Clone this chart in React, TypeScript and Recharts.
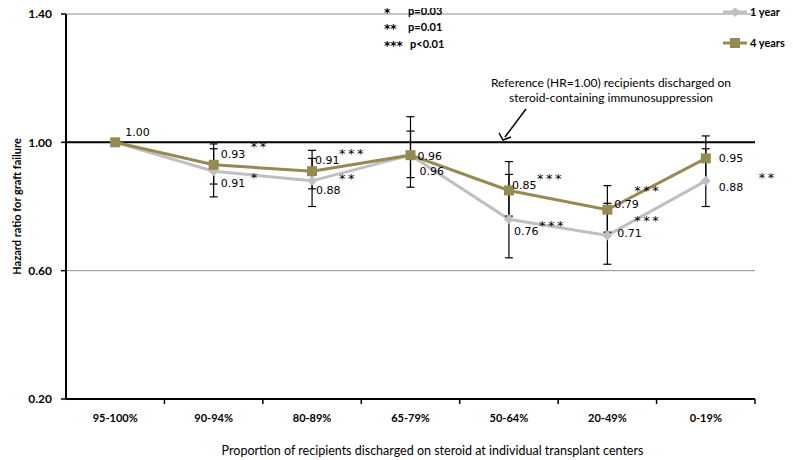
import {
	LineChart,
	Line,
	XAxis,
	YAxis,
	CartesianGrid,
	ReferenceLine,
	ErrorBar,
	LabelList,
	Label,
	Customized,
} from 'recharts'

const categories = ['95-100%', '90-94%', '80-89%', '65-79%', '50-64%', '20-49%', '0-19%']
const hr1Year = [1.0, 0.91, 0.88, 0.96, 0.76, 0.71, 0.88]
const hr4Years = [1.0, 0.93, 0.91, 0.96, 0.85, 0.79, 0.95]
const low1Year = [null, 0.83, 0.8, 0.86, 0.64, 0.62, 0.8]
const high1Year = [null, 0.98, 0.95, 1.08, 0.9, 0.81, 0.98]
const low4Years = [null, 0.87, 0.855, 0.89, 0.77, 0.72, 0.88]
const high4Years = [null, 0.995, 0.975, 1.035, 0.94, 0.865, 1.02]
const sig1Year = ['', '*', '**', '', '***', '***', '**']
const sig4Years = ['', '**', '***', '', '***', '***', '']
const yTicks = [0.2, 0.6, 1.0, 1.4]

// label placement tweaks (px), per point
const lblDx1 = [0, 7, 4, 9, 5, 10, 13]
const lblDy1 = [0, 16, 13, 20, 16, 2, 10]
const starDx1 = [0, 30, 23, 0, 25, 17, 40]
const starDy1 = [0, -5, -11, 0, -5, -12, -9]
const lblDx4 = [10, 7, 3, 7, 3, 7, 13]
const lblDy4 = [-6, -7, -7, 5, -1, -2, 4]
const starDx4 = [0, 30, 24, 0, 25, 20, 0]
const starDy4 = [0, -7, -6, 0, -6, -13, 0]

const data = categories.map((name, i) => ({
	name,
	oneYear: hr1Year[i],
	fourYears: hr4Years[i],
	err1:
		low1Year[i] == null
			? null
			: [hr1Year[i] - (low1Year[i] as number), (high1Year[i] as number) - hr1Year[i]],
	err4:
		low4Years[i] == null
			? null
			: [hr4Years[i] - (low4Years[i] as number), (high4Years[i] as number) - hr4Years[i]],
}))

const W = 793
const H = 460
const margin = { top: 14, right: 38, left: 0, bottom: 3 }
const Y_AXIS_W = 66
const BAND = (W - margin.right - Y_AXIS_W) / categories.length

const GRAY = '#c0c0c0'
const OLIVE = '#948a54'
const boldFont = 'Lato, "Open Sans", sans-serif'
const numFont = '"DejaVu Sans", Verdana, sans-serif'

const Diamond = ({ cx, cy, fill }: any) => (
	<polygon
		points={`${cx},${cy - 5} ${cx + 5},${cy} ${cx},${cy + 5} ${cx - 5},${cy}`}
		fill={fill}
	/>
)

const Square = ({ cx, cy, fill }: any) => (
	<rect x={cx - 5} y={cy - 5} width={10} height={10} fill={fill} />
)

const XTick = (props: any) => {
	const { x, y, payload } = props
	return (
		<g>
			<line x1={x + BAND / 2} x2={x + BAND / 2} y1={y} y2={y + 5} stroke='#000' strokeWidth={1.5} />
			<text
				x={x}
				y={y + 23}
				textAnchor='middle'
				fontFamily={boldFont}
				fontWeight='bold'
				fontSize={11}
				fill='#000'
			>
				{payload.value}
			</text>
		</g>
	)
}

const makeLabel =
	(
		sig: string[],
		dxs: number[],
		dys: number[],
		sdx: number[],
		sdy: number[],
		skipFirst: boolean
	) =>
	(props: any) => {
		const { x, y, value, index } = props
		if (skipFirst && index === 0) return null
		const tx = x + dxs[index]
		const ty = y + dys[index]
		return (
			<g key={`lbl-${index}`}>
				<text x={tx} y={ty} fontFamily={numFont} fontSize={11} fill='#000'>
					{Number(value).toFixed(2)}
				</text>
				{sig[index] ? (
					<text
						x={tx + sdx[index]}
						y={ty + sdy[index]}
						fontFamily={numFont}
						fontSize={13}
						letterSpacing={2.5}
						fill='#000'
					>
						{sig[index]}
					</text>
				) : null}
			</g>
		)
	}

const Notes = () => (
	<g fontFamily={boldFont} fontSize={11} fill='#000'>
		<g fontWeight='bold'>
			<text x={384} y={17} fontFamily={numFont} fontSize={12}>*</text>
			<text x={408} y={15}>p=0.03</text>
			<text x={384} y={33} fontFamily={numFont} fontSize={12}>**</text>
			<text x={408} y={31}>p=0.01</text>
			<text x={384} y={50} fontFamily={numFont} fontSize={12}>***</text>
			<text x={410} y={48}>p&lt;0.01</text>
		</g>
		<g>
			<line x1={723} x2={747} y1={12} y2={12} stroke={GRAY} strokeWidth={3} />
			<Diamond cx={735} cy={12} fill={GRAY} />
			<text x={750} y={16} fontWeight='bold'>
				1 year
			</text>
			<line x1={723} x2={747} y1={43} y2={43} stroke={OLIVE} strokeWidth={3} />
			<Square cx={735} cy={43} fill={OLIVE} />
			<text x={750} y={47} fontWeight='bold'>
				4 years
			</text>
		</g>
		<g fontSize={12}>
			<text x={611} y={87} textAnchor='middle'>
				Reference (HR=1.00) recipients discharged on
			</text>
			<text x={611} y={102} textAnchor='middle'>
				steroid-containing immunosuppression
			</text>
		</g>
		<line x1={526} y1={109} x2={505} y2={137} stroke='#000' strokeWidth={1.5} />
		<polyline points='499,133 503,140 511,137' fill='none' stroke='#000' strokeWidth={1.5} />
	</g>
)

export default function App() {
	return (
		<div style={{ marginTop: -8, marginLeft: -8 }}>
			<LineChart width={W} height={H} data={data} margin={margin}>
				<CartesianGrid vertical={false} stroke='#8c8c8c' strokeWidth={1} />
				<XAxis
					dataKey='name'
					scale='band'
					height={58}
					tickSize={0}
					tickMargin={0}
					tickLine={false}
					tick={<XTick />}
					axisLine={{ stroke: '#000', strokeWidth: 2 }}
					interval={0}
				>
					<Label
						value='Proportion of recipients discharged on steroid at individual transplant centers'
						position='insideBottom'
						offset={2}
						dx={22}
						style={{ fontFamily: boldFont, fontSize: 12.5, fill: '#000' }}
					/>
				</XAxis>
				<YAxis
					width={Y_AXIS_W}
					domain={[0.2, 1.4]}
					ticks={yTicks}
					tickFormatter={(v: number) => v.toFixed(2)}
					tickSize={5}
					tickMargin={9}
					tick={{ fontFamily: boldFont, fontWeight: 'bold', fontSize: 12, fill: '#000' }}
					tickLine={{ stroke: '#000', strokeWidth: 1.5 }}
					axisLine={{ stroke: '#000', strokeWidth: 2 }}
					interval={0}
				>
					<Label
						value='Hazard ratio for graft failure'
						angle={-90}
						position='insideLeft'
						offset={17}
						style={{
							fontFamily: boldFont,
							fontWeight: 'bold',
							fontSize: 11,
							fill: '#000',
							textAnchor: 'middle',
						}}
					/>
				</YAxis>
				<ReferenceLine y={1} stroke='#000' strokeWidth={2} />
				<Line
					type='linear'
					dataKey='oneYear'
					name='1 year'
					stroke={GRAY}
					strokeWidth={3}
					dot={(p: any) => <Diamond key={`d1-${p.index}`} cx={p.cx} cy={p.cy} fill={GRAY} />}
					activeDot={false}
					isAnimationActive={false}
				>
					<ErrorBar dataKey='err1' width={4} stroke='#000' strokeWidth={1.2} direction='y' />
					<LabelList
						dataKey='oneYear'
						content={makeLabel(sig1Year, lblDx1, lblDy1, starDx1, starDy1, true)}
					/>
				</Line>
				<Line
					type='linear'
					dataKey='fourYears'
					name='4 years'
					stroke={OLIVE}
					strokeWidth={3}
					dot={(p: any) => <Square key={`d4-${p.index}`} cx={p.cx} cy={p.cy} fill={OLIVE} />}
					activeDot={false}
					isAnimationActive={false}
				>
					<ErrorBar dataKey='err4' width={4} stroke='#000' strokeWidth={1.2} direction='y' />
					<LabelList
						dataKey='fourYears'
						content={makeLabel(sig4Years, lblDx4, lblDy4, starDx4, starDy4, false)}
					/>
				</Line>
				<Customized component={Notes} />
			</LineChart>
		</div>
	)
}
